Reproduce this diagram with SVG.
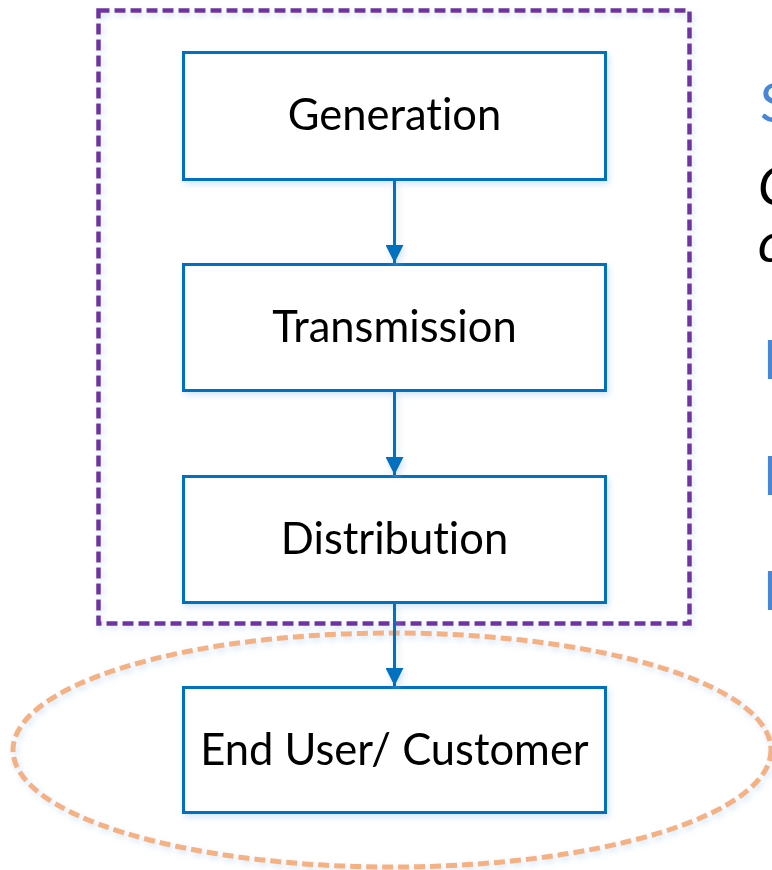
<svg xmlns="http://www.w3.org/2000/svg" width="772" height="870" viewBox="0 0 772 870">
  <defs>
    <filter id="soft" filterUnits="userSpaceOnUse" x="0" y="0" width="772" height="870">
      <feGaussianBlur in="SourceAlpha" stdDeviation="3"/>
      <feOffset dx="2" dy="3" result="b"/>
      <feFlood flood-color="#9cc3ea" flood-opacity="0.45"/>
      <feComposite in2="b" operator="in"/>
      <feMerge><feMergeNode/><feMergeNode in="SourceGraphic"/></feMerge>
    </filter>
    <marker id="head" viewBox="0 0 20 20" refX="20" refY="10" markerWidth="18" markerHeight="18" markerUnits="userSpaceOnUse" orient="auto">
      <path d="M0,0 L20,10 L0,20 z" fill="#0070C0"/>
    </marker>
  </defs>
  <style>
    .box { fill: #ffffff; stroke: #0070C0; stroke-width: 3; }
    .label { font-family: Lato, "Liberation Sans", sans-serif; font-size: 43.5px; fill: #000000; text-anchor: middle; font-variant-ligatures: none; }
    .edge { stroke: #0070C0; stroke-width: 3; fill: none; }
    .side { font-family: Lato, "Liberation Sans", sans-serif; font-size: 54px; }
  </style>

  <rect width="772" height="870" fill="#ffffff"/>

  <!-- grid boundary -->
  <g id="grid-boundary" filter="url(#soft)">
    <rect x="98.5" y="10.5" width="591" height="613" fill="none" stroke="#7030A0" stroke-width="4.5" stroke-dasharray="11,5"/>
  </g>

  <!-- customer zone -->
  <g id="customer-zone" filter="url(#soft)">
    <ellipse cx="392" cy="750" rx="379" ry="117" fill="none" stroke="#F4B183" stroke-width="5" stroke-dasharray="11,5"/>
  </g>

  <g id="generation" filter="url(#soft)">
    <rect class="box" x="183.5" y="52.5" width="422" height="127"/>
    <text class="label" x="394.5" y="130">Generation</text>
  </g>
  <g id="transmission" filter="url(#soft)">
    <rect class="box" x="183.5" y="264.5" width="422" height="126"/>
    <text class="label" x="394.5" y="342">Transmission</text>
  </g>
  <g id="distribution" filter="url(#soft)">
    <rect class="box" x="183.5" y="476.5" width="422" height="126"/>
    <text class="label" x="394.5" y="554">Distribution</text>
  </g>
  <g id="end-user" filter="url(#soft)">
    <rect class="box" x="183.5" y="687.5" width="422" height="125"/>
    <text class="label" x="394.5" y="765">End User/ Customer</text>
  </g>

  <g id="connectors" filter="url(#soft)">
    <line class="edge" x1="394.5" y1="180" x2="394.5" y2="263" marker-end="url(#head)"/>
    <line class="edge" x1="394.5" y1="392" x2="394.5" y2="475" marker-end="url(#head)"/>
    <line class="edge" x1="394.5" y1="604" x2="394.5" y2="686" marker-end="url(#head)"/>
  </g>

  <!-- side text running past the right edge -->
  <g id="side-text" class="side">
    <text x="760" y="122" fill="#4A86D6">S</text>
    <text x="758" y="205" fill="#000000" font-style="italic">C</text>
    <text x="758" y="262" fill="#000000" font-style="italic">c</text>
    <text x="763" y="379" fill="#4A86D6">D</text>
    <text x="763" y="495" fill="#4A86D6">F</text>
    <text x="763" y="610" fill="#4A86D6">M</text>
  </g>
</svg>
